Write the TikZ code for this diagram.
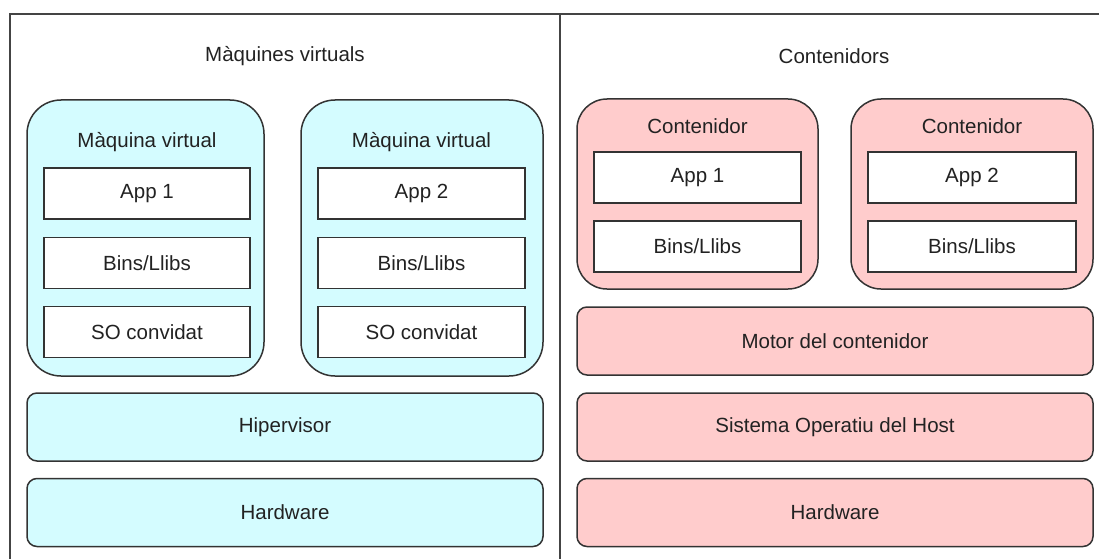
\documentclass[tikz,border=0pt]{standalone}
\usepackage{fontspec}
\setmainfont{Liberation Sans}
\definecolor{vmfill}{HTML}{D4FCFF}
\definecolor{ctfill}{HTML}{FFCCCC}
\definecolor{edge}{HTML}{333333}
\definecolor{txt}{HTML}{222222}
\definecolor{frame}{HTML}{444444}
\begin{document}
\begin{tikzpicture}[x=1pt,y=-1pt,
  every node/.style={font=\fontsize{20.5}{24}\selectfont, text=txt, inner sep=0pt},
  group/.style={draw=edge, line width=1.5pt, rounded corners=34pt, minimum width=#1},
  layer/.style={draw=edge, line width=1.5pt, rounded corners=10pt, minimum width=516pt, minimum height=68pt},
  inbox/.style={draw=edge, line width=1.3pt, fill=white, minimum height=51pt, minimum width=#1},
]
\useasboundingbox (0,0) rectangle (1099,559);
\draw[frame, line width=2pt] (10,559) -- (10,14) -- (1099,14);
\draw[frame, line width=2pt] (560,14) -- (560,559);

\node (tvm) at (285,56) {Màquines virtuals};
\node (tct) at (834,56) {Contenidors};

% virtual machines
\node[group=237pt, fill=vmfill, minimum height=276pt] (vm1) at (145.5,238) {};
\node[group=242pt, fill=vmfill, minimum height=276pt] (vm2) at (422,238) {};
\node (vm1l) at (147,142) {Màquina virtual};
\node (vm2l) at (421.5,142) {Màquina virtual};
\node[inbox=206pt] (a1) at (147,193.5) {App 1};
\node[inbox=206pt] (b1) at (147,263) {Bins/Llibs};
\node[inbox=206pt] (s1) at (147,332) {SO convidat};
\node[inbox=207pt] (a2) at (421.5,193.5) {App 2};
\node[inbox=207pt] (b2) at (421.5,263) {Bins/Llibs};
\node[inbox=207pt] (s2) at (421.5,332) {SO convidat};
\node[layer, fill=vmfill] (hyp) at (285,427) {Hipervisor};
\node[layer, fill=vmfill] (hw1) at (285,512.5) {Hardware};

% containers
\node[group=241pt, fill=ctfill, minimum height=190pt, rounded corners=30pt] (c1) at (697.5,194) {};
\node[group=242pt, fill=ctfill, minimum height=190pt, rounded corners=30pt] (c2) at (972,194) {};
\node (c1l) at (697.5,126) {Contenidor};
\node (c2l) at (972,126) {Contenidor};
\node[inbox=207pt] (ca1) at (697.5,177.5) {App 1};
\node[inbox=207pt] (cb1) at (697.5,246.5) {Bins/Llibs};
\node[inbox=208pt] (ca2) at (972,177.5) {App 2};
\node[inbox=208pt] (cb2) at (972,246.5) {Bins/Llibs};
\node[layer, fill=ctfill] (motor) at (835,341) {Motor del contenidor};
\node[layer, fill=ctfill] (host) at (835,427) {Sistema Operatiu del Host};
\node[layer, fill=ctfill] (hw2) at (835,512.5) {Hardware};
\end{tikzpicture}
\end{document}
